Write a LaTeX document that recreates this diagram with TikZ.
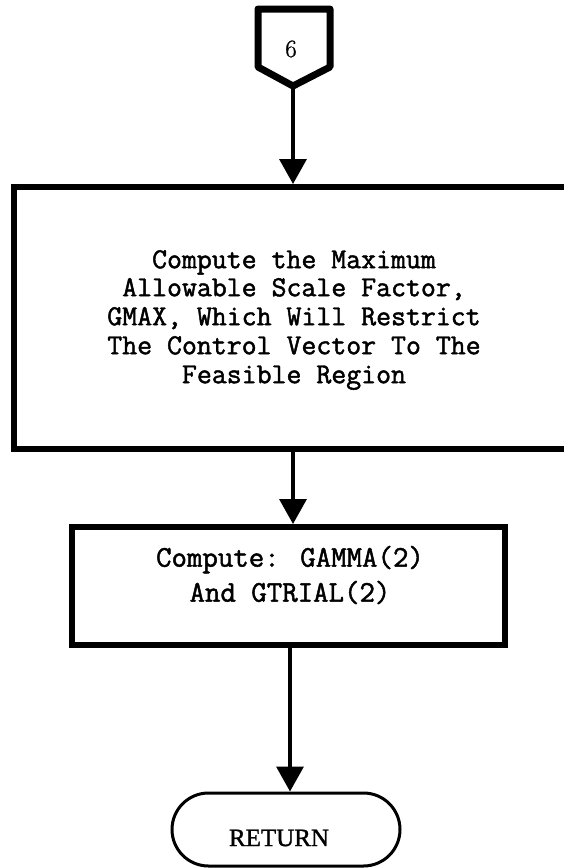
\documentclass[tikz,border=0pt]{standalone}
\usepackage{fontspec}
\usetikzlibrary{arrows.meta,shapes.misc}
\newfontfamily\retfont{Liberation Serif}[FakeBold=1.2]
\newfontfamily\twfont{Latin Modern Mono}[FakeBold=1.6]
\newfontfamily\numfont{Latin Modern Roman}[FakeBold=1.0]
\tikzset{
  x=1pt, y=-1pt,
  procbox/.style={draw, line width=6pt, rectangle, inner sep=0pt},
  termbox/.style={draw, line width=3pt, rounded rectangle, inner sep=0pt},
  flow/.style={line width=3.5pt, -{Triangle[width=27pt,length=25pt]}},
  tw/.style={font=\twfont\fontsize{29}{29}\selectfont, align=center, inner sep=0pt},
}
\begin{document}
\begin{tikzpicture}
  \useasboundingbox (0,0) rectangle (564,868);

  % off-page connector 6
  \draw[line width=7pt, line join=round]
    (258,9) -- (330,9) -- (330,67) -- (293,86) -- (258,67) -- cycle;
  \coordinate (c6) at (293,86);
  \node[font=\numfont\fontsize{25}{25}\selectfont, inner sep=0pt] (c6lab) at (291,49) {6};

  % process boxes
  \node[procbox, minimum width=558pt, minimum height=262pt] (gmax) at (293,318) {};
  \node[tw] (gmaxtxt) at (294,320)
    {Compute the Maximum\\[-1pt]
     Allowable Scale Factor,\\
     GMAX, Which Will Restrict\\
     The Control Vector To The\\
     Feasible Region};

  \node[procbox, minimum width=433pt, minimum height=118pt] (gamma) at (288.5,586) {};
  \node[tw, font=\twfont\fontsize{30}{35}\selectfont] (gammatxt) at (290,575)
    {Compute: GAMMA(2)\\ And GTRIAL(2)};

  % terminal
  \node[termbox, minimum width=228pt, minimum height=73pt] (ret) at (286,829.5) {};
  \node[font=\retfont\fontsize{25}{25}\selectfont, inner sep=0pt] (rettxt) at (279,838) {RETURN};

  % flow lines
  \draw[flow] (c6) -- (c6 |- gmax.north);
  \draw[flow] (gmax.south) -- (gmax.south |- gamma.north);
  \draw[flow] ([xshift=1.5pt]gamma.south) -- ([xshift=1.5pt]gamma.south |- ret.north);
\end{tikzpicture}
\end{document}
